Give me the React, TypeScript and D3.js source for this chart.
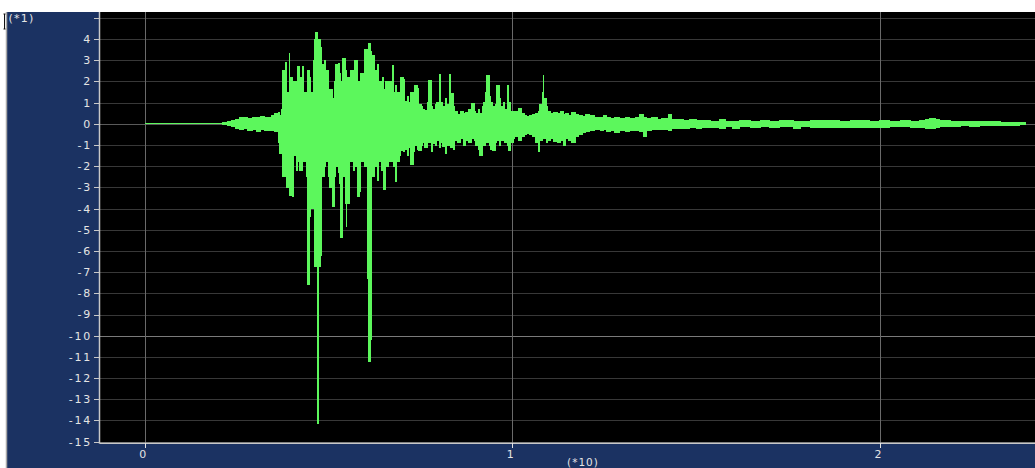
import React from 'react';
import * as d3 from 'd3';

// time of each envelope sample, seconds (axis shows values *10)
const timeSec = [
  0, 2.13, 2.24, 2.35, 2.48, 2.59, 2.70, 2.81, 2.92, 3.03, 3.14, 3.25, 3.35, 3.46, 3.54, 3.63, 3.68, 3.73,
  3.76, 3.82, 3.87, 3.93, 3.95, 4.01, 4.06, 4.12, 4.17, 4.22, 4.28, 4.33, 4.39, 4.44, 4.47, 4.52, 4.58,
  4.63, 4.66, 4.69, 4.72, 4.77, 4.82, 4.88, 4.93, 4.99, 5.04, 5.10, 5.15, 5.20, 5.26, 5.31, 5.34, 5.39,
  5.45, 5.48, 5.50, 5.56, 5.61, 5.67, 5.72, 5.78, 5.83, 5.88, 5.94, 5.99, 6.05, 6.10, 6.13, 6.16, 6.18,
  6.26, 6.32, 6.37, 6.43, 6.48, 6.51, 6.56, 6.62, 6.67, 6.73, 6.78, 6.81, 6.86, 6.92, 6.97, 7.03, 7.08,
  7.14, 7.19, 7.24, 7.30, 7.35, 7.41, 7.46, 7.52, 7.57, 7.62, 7.68, 7.73, 7.79, 7.84, 7.90, 7.95, 8.01,
  8.06, 8.11, 8.17, 8.22, 8.28, 8.33, 8.39, 8.44, 8.50, 8.58, 8.66, 8.74, 8.82, 8.90, 8.96, 9.01, 9.07,
  9.12, 9.18, 9.23, 9.28, 9.31, 9.37, 9.42, 9.47, 9.53, 9.58, 9.64, 9.69, 9.75, 9.80, 9.86, 9.91, 9.96,
  10.02, 10.07, 10.16, 10.24, 10.32, 10.40, 10.48, 10.56, 10.64, 10.70, 10.75, 10.81, 10.84, 10.86,
  10.92, 10.97, 11.05, 11.13, 11.22, 11.30, 11.38, 11.46, 11.54, 11.62, 11.71, 11.79, 11.90, 12.00,
  12.11, 12.25, 12.39, 12.47, 12.55, 12.68, 12.79, 12.93, 13.07, 13.20, 13.34, 13.47, 13.58, 13.66,
  13.80, 13.94, 14.07, 14.24, 14.34, 14.51, 14.67, 14.83, 15.00, 15.16, 15.38, 15.65, 15.79, 16.00,
  16.19, 16.47, 16.74, 17.01, 17.28, 17.64, 17.83, 18.10, 18.37, 18.64, 18.91, 19.19, 19.46, 19.73,
  20.00, 20.27, 20.55, 20.82, 21.08, 21.23, 21.36, 21.50, 21.63, 21.91, 22.18, 22.44, 22.71, 22.99,
  23.27, 23.54, 23.81, 23.95,
];

// upper envelope of the trace (*1)
const upper = [
  0, 0.05, 0.1, 0.15, 0.22, 0.28, 0.3, 0.25, 0.32, 0.3, 0.35, 0.3, 0.28, 0.38, 0.5, 0.55, 0.4, 0.7,
  2.5, 2.9, 1.5, 3.3, 2.2, 1.2, 2.0, 1.0, 2.7, 2.2, 2.7, 1.5, 0.8, 2.5, 2.2, 1.5, 3.0,
  4.0, 4.3, 3.8, 4.0, 3.6, 2.8, 3.0, 2.5, 1.5, 1.6, 1.2, 2.0, 2.8, 2.85, 2.4, 2.0, 3.1,
  2.5, 2.0, 2.2, 1.8, 2.5, 1.5, 3.0, 2.0, 1.8, 2.4, 2.0, 3.5, 3.0, 3.77, 3.4, 3.25, 3.25,
  2.5, 2.8, 2.0, 1.5, 2.2, 1.6, 2.0, 1.3, 2.0, 2.77, 1.5, 1.8, 1.5, 1.2, 2.2, 2.1, 1.04,
  1.3, 1.0, 1.5, 1.2, 1.83, 1.67, 0.9, 0.8, 0.7, 0.65, 1.0, 2.07, 0.8, 0.7, 0.9, 1.0, 2.35,
  1.0, 0.8, 1.2, 0.9, 2.35, 1.44, 0.8, 0.6, 0.46, 0.6, 0.5, 0.55, 0.7, 0.98, 0.6, 0.5, 0.7,
  0.5, 0.8, 1.0, 1.5, 2.26, 1.3, 1.0, 0.8, 0.9, 1.83, 1.2, 0.8, 1.0, 0.7, 1.83, 1.0, 0.6,
  0.5, 0.6, 0.73, 0.5, 0.4, 0.35, 0.4, 0.45, 0.5, 0.6, 0.9, 1.5, 2.26, 1.2,
  0.8, 0.6, 0.5, 0.55, 0.5, 0.6, 0.45, 0.5, 0.4, 0.55, 0.45, 0.4, 0.35, 0.45,
  0.4, 0.3, 0.32, 0.38, 0.3, 0.25, 0.28, 0.25, 0.3, 0.25, 0.28, 0.45, 0.3, 0.25,
  0.3, 0.22, 0.25, 0.43, 0.2, 0.2, 0.18, 0.2, 0.15, 0.15, 0.13, 0.2, 0.13, 0.12,
  0.15, 0.12, 0.15, 0.12, 0.15, 0.12, 0.13, 0.17, 0.15, 0.15, 0.13, 0.17, 0.15, 0.13,
  0.15, 0.12, 0.15, 0.13, 0.17, 0.22, 0.25, 0.2, 0.15, 0.12, 0.13, 0.1, 0.12, 0.1,
  0.08, 0.07, 0.06, 0,
];

// lower envelope of the trace (*1)
const lower = [
  0, -0.03, -0.08, -0.12, -0.2, -0.25, -0.22, -0.3, -0.28, -0.38, -0.25, -0.3, -0.33, -0.3, -0.35, -0.9, -1.4, -1.2,
  -2.5, -2.0, -3.0, -3.4, -3.4, -3.44, -1.5, -2.2, -1.8, -2.2, -1.5, -1.8, -2.5, -7.56, -4.38, -4.0, -1.5,
  -6.74, -6.74, -14.13, -6.74, -6.2, -2.5, -2.0, -1.8, -2.5, -3.0, -3.9, -2.5, -2.0, -2.3, -2.8, -5.36, -2.5,
  -3.74, -4.86, -3.74, -1.5, -1.8, -2.2, -2.0, -3.44, -3.2, -1.8, -1.5, -2.0, -7.29, -11.23, -10.17, -7.29, -2.5,
  -2.0, -2.65, -1.8, -2.2, -1.5, -3.12, -2.0, -1.5, -1.8, -1.5, -2.0, -2.73, -1.8, -1.5, -1.24, -1.3, -1.2,
  -1.5, -1.1, -1.94, -1.3, -1.0, -1.2, -1.24, -1.0, -0.9, -1.1, -0.8, -0.9, -1.3, -0.92, -1.0, -0.8, -1.1,
  -0.9, -1.08, -1.4, -1.0, -0.9, -1.1, -1.2, -0.8, -0.9, -0.7, -1.0, -0.8, -0.9, -0.7, -0.8, -1.0, -1.2,
  -1.47, -0.9, -1.0, -0.8, -0.9, -1.0, -1.2, -1.24, -0.9, -0.8, -1.0, -0.8, -0.7, -0.9, -1.0, -1.24, -0.9,
  -0.7, -0.6, -0.8, -0.6, -0.5, -0.45, -0.5, -0.6, -0.9, -1.3, -0.8, -0.7, -0.6, -0.7,
  -0.9, -0.8, -0.7, -0.85, -0.9, -0.8, -1.0, -0.7, -0.8, -0.9, -0.6, -0.5, -0.4, -0.35,
  -0.3, -0.28, -0.3, -0.25, -0.38, -0.3, -0.4, -0.3, -0.35, -0.3, -0.3, -0.35, -0.61, -0.3,
  -0.25, -0.28, -0.25, -0.3, -0.22, -0.2, -0.2, -0.18, -0.2, -0.15, -0.15, -0.2, -0.13, -0.2,
  -0.13, -0.15, -0.12, -0.15, -0.13, -0.2, -0.12, -0.15, -0.18, -0.15, -0.17, -0.15, -0.15, -0.17,
  -0.15, -0.14, -0.14, -0.15, -0.15, -0.2, -0.22, -0.18, -0.13, -0.12, -0.1, -0.12, -0.1, -0.1,
  -0.08, -0.07, -0.05, 0,
];

const yTickValues = [-15, -14, -13, -12, -11, -10, -9, -8, -7, -6, -5, -4, -3, -2, -1, 0, 1, 2, 3, 4, 5];
const yLabelValues = [-15, -14, -13, -12, -11, -10, -9, -8, -7, -6, -5, -4, -3, -2, -1, 0, 1, 2, 3, 4];
const brightGrid = [0, -10];
const xTickValues = [0, 10, 20];
const xTickLabels = ['0', '1', '2'];
const yUnitLabel = '(*1)';
const xUnitLabel = '(*10)';

const W = 1035;
const H = 468;
const plotLeft = 100;
const plotRight = 1035;
const plotTop = 12;
const plotBottom = 442.7;

const NAVY = '#1b3262';
const GREEN = '#5cf75c';
const LABEL = '#e4e4e4';
const FONT = '"DejaVu Sans", Verdana, sans-serif';

export default function App() {
  const x = d3.scaleLinear().domain([-1.216, 24.22]).range([plotLeft, plotRight]);
  const y = d3.scaleLinear().domain([-15.05, 5.28]).range([plotBottom, plotTop]);

  const pts = timeSec.map((t, i) => ({ t, hi: upper[i], lo: lower[i] }));
  const area = d3
    .area<{ t: number; hi: number; lo: number }>()
    .x((d) => x(d.t))
    .y0((d) => y(d.lo))
    .y1((d) => y(d.hi))
    .curve(d3.curveStepAfter);

  const snap = (v: number) => Math.round(v) + 0.5;

  return (
    <svg
      width={W}
      height={H}
      style={{ position: 'absolute', left: 0, top: 0, display: 'block' }}
      fontFamily={FONT}
    >
      <rect x={0} y={0} width={W} height={H} fill="#ffffff" />
      <rect x={6} y={plotTop} width={W - 6} height={H - plotTop} fill={NAVY} />
      <line x1={6.5} x2={6.5} y1={plotTop} y2={H} stroke="#a8a8a8" strokeWidth={1.5} />
      <path d="M3.5,14 H5.5 M4.5,14 V29 M3.5,29 H5.5" stroke="#111" strokeWidth={1} fill="none" />
      <rect x={plotLeft} y={plotTop} width={plotRight - plotLeft} height={plotBottom - plotTop} fill="#000000" />

      {/* horizontal grid */}
      {yTickValues.map((v) => (
        <line
          key={'gy' + v}
          x1={plotLeft}
          x2={plotRight}
          y1={snap(y(v))}
          y2={snap(y(v))}
          stroke={brightGrid.includes(v) ? (v === 0 ? '#5a5a5a' : '#7a7a7a') : '#383838'}
          strokeWidth={1}
          shapeRendering="crispEdges"
        />
      ))}
      {/* vertical grid */}
      {xTickValues.map((v) => (
        <line
          key={'gx' + v}
          x1={snap(x(v))}
          x2={snap(x(v))}
          y1={plotTop}
          y2={plotBottom}
          stroke="#6a6a6a"
          strokeWidth={1.5}
          shapeRendering="crispEdges"
        />
      ))}

      {/* trace */}
      <path
        d={area(pts) || ''}
        fill={GREEN}
        stroke={GREEN}
        strokeWidth={1}
        shapeRendering="crispEdges"
      />

      {/* axes */}
      <line x1={plotLeft - 0.5} x2={plotLeft - 0.5} y1={plotTop} y2={plotBottom + 1} stroke="#c8c8c8" strokeWidth={1.5} />
      <line x1={plotLeft} x2={plotRight} y1={plotBottom + 0.5} y2={plotBottom + 0.5} stroke="#c8c8c8" strokeWidth={1.5} />

      {yTickValues.map((v) => (
        <line
          key={'ty' + v}
          x1={plotLeft - 6}
          x2={plotLeft}
          y1={snap(y(v))}
          y2={snap(y(v))}
          stroke="#c8c8c8"
          strokeWidth={1}
          shapeRendering="crispEdges"
        />
      ))}
      {yLabelValues.map((v) => (
        <text
          key={'ly' + v}
          x={plotLeft - 8}
          y={y(v)}
          dy="0.36em"
          textAnchor="end"
          fontSize={11}
          letterSpacing={1.8}
          fill={LABEL}
        >
          {String(v)}
        </text>
      ))}

      {xTickValues.map((v, i) => (
        <g key={'tx' + v}>
          <line
            x1={snap(x(v))}
            x2={snap(x(v))}
            y1={plotBottom}
            y2={plotBottom + 5}
            stroke={LABEL}
            strokeWidth={1}
            shapeRendering="crispEdges"
          />
          <text x={x(v) - 2} y={458} textAnchor="middle" fontSize={11} fill={LABEL}>
            {xTickLabels[i]}
          </text>
        </g>
      ))}

      <text x={8.5} y={22} fontSize={11} letterSpacing={1.2} fill={LABEL}>
        {yUnitLabel}
      </text>
      <text x={583} y={465.5} textAnchor="middle" fontSize={10.5} letterSpacing={1} fill={LABEL}>
        {xUnitLabel}
      </text>
    </svg>
  );
}
